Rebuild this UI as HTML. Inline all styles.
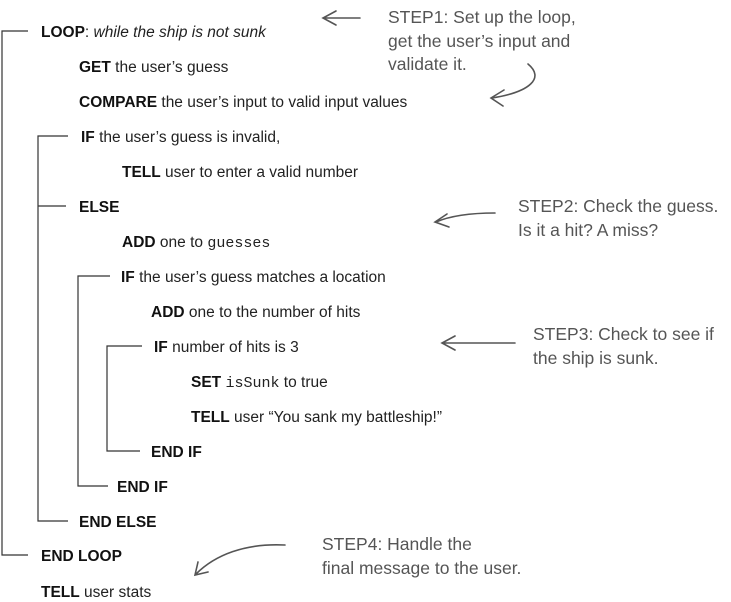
<!DOCTYPE html>
<html><head><meta charset="utf-8"><style>
body{margin:0;width:731px;height:598px;background:#fff;position:relative;overflow:hidden;font-family:"Liberation Sans",sans-serif;}
.t{position:absolute;font-size:15.5px;color:#222;line-height:18px;white-space:nowrap;transform:translateY(-7px);}
.t b{font-weight:600;color:#111;}
.m{font-family:"Liberation Mono",monospace;font-size:15px;}
.n{position:absolute;font-size:17.5px;color:#555;line-height:23.5px;white-space:nowrap;}
svg{position:absolute;left:0;top:0;}
</style></head><body>
<svg width="731" height="598" fill="none" stroke="#333" stroke-width="1.2">
<path d="M28 31H2V555H28"/>
<path d="M68 136H38V521H68 M38 206H66"/>
<path d="M110 276H78V486H108"/>
<path d="M142 346H107V451H140"/>
<g stroke="#555" stroke-width="1.6" stroke-linecap="round">
<path d="M360 18H324 M336 11L323 18L336 25"/>
<path d="M528 64C545 78 530 92 492 98 M504 90L491 98L503 106"/>
<path d="M495 213C470 213 450 216 436 222 M447 214L435 222L449 227"/>
<path d="M515 343H443 M455 336L442 343L455 350"/>
<path d="M285 545C245 543 215 555 196 574 M198 562L195 575L208 572"/>
</g>
</svg>
<div class="t" style="left:41px;top:31px"><b>LOOP</b>: <i>while the ship is not sunk</i></div>
<div class="t" style="left:79px;top:66px"><b>GET</b> the user’s guess</div>
<div class="t" style="left:79px;top:101px"><b>COMPARE</b> the user’s input to valid input values</div>
<div class="t" style="left:81px;top:136px"><b>IF</b> the user’s guess is invalid,</div>
<div class="t" style="left:122px;top:171px"><b>TELL</b> user to enter a valid number</div>
<div class="t" style="left:79px;top:206px"><b>ELSE</b></div>
<div class="t" style="left:122px;top:241px"><b>ADD</b> one to <span class="m">guesses</span></div>
<div class="t" style="left:121px;top:276px"><b>IF</b> the user’s guess matches a location</div>
<div class="t" style="left:151px;top:311px"><b>ADD</b> one to the number of hits</div>
<div class="t" style="left:154px;top:346px"><b>IF</b> number of hits is 3</div>
<div class="t" style="left:191px;top:381px"><b>SET</b> <span class="m">isSunk</span> to true</div>
<div class="t" style="left:191px;top:416px"><b>TELL</b> user “You sank my battleship!”</div>
<div class="t" style="left:151px;top:451px"><b>END IF</b></div>
<div class="t" style="left:117px;top:486px"><b>END IF</b></div>
<div class="t" style="left:79px;top:521px"><b>END ELSE</b></div>
<div class="t" style="left:41px;top:555px"><b>END LOOP</b></div>
<div class="t" style="left:41px;top:591px"><b>TELL</b> user stats</div>
<div class="n" style="left:388px;top:6px">STEP1: Set up the loop,<br>get the user’s input and<br>validate it.</div>
<div class="n" style="left:518px;top:195px">STEP2: Check the guess.<br>Is it a hit? A miss?</div>
<div class="n" style="left:533px;top:323px">STEP3: Check to see if<br>the ship is sunk.</div>
<div class="n" style="left:322px;top:533px">STEP4: Handle the<br>final message to the user.</div>
</body></html>
